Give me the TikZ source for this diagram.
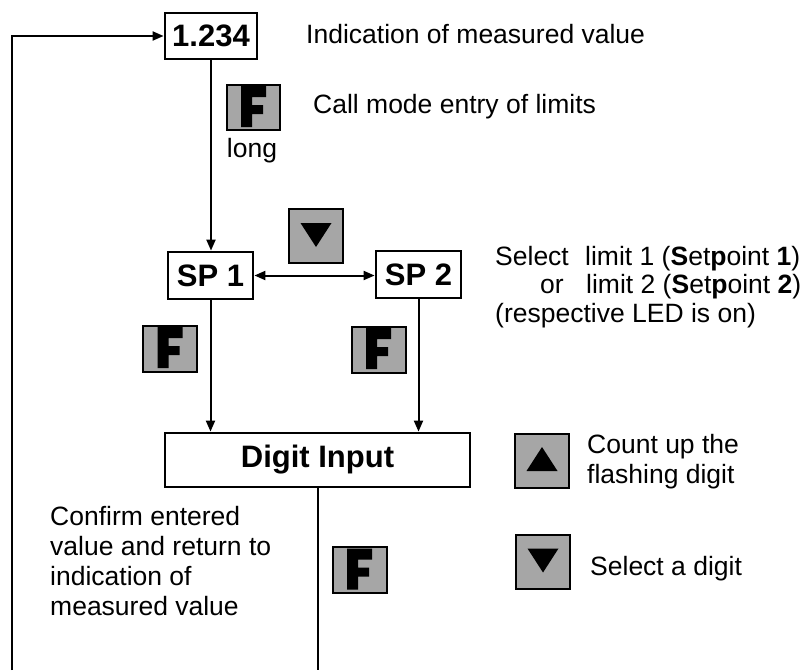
\documentclass[tikz,border=0pt]{standalone}
\usepackage{fontspec}
\setmainfont{Liberation Sans}
\usetikzlibrary{arrows.meta}
\definecolor{keygray}{RGB}{166,166,166}
\newcommand{\Fglyph}[1]{\fill[shift={(#1.center)}] (-12.5,-21.5) -- (12.5,-21.5) -- (12.5,-10.5) -- (-1.5,-10.5) -- (-1.5,-2.5) -- (9.5,-2.5) -- (9.5,6.5) -- (-1.5,6.5) -- (-1.5,19.5) -- (-12.5,19.5) -- cycle;}
\newcommand{\Downglyph}[1]{\fill[shift={(#1.center)}] (-15.5,-13) -- (15.5,-13) -- (0,11) -- cycle;}
\newcommand{\Upglyph}[1]{\fill[shift={(#1.center)}] (-15.5,10.5) -- (15.5,10.5) -- (0,-13.5) -- cycle;}
\begin{document}
\begin{tikzpicture}[x=1pt,y=-1pt,
  txt/.style={anchor=base west,inner sep=0pt,font=\fontsize{26.5}{30}\selectfont},
  statebox/.style={draw,line width=2.8pt,fill=white,inner sep=0pt,font=\fontsize{31}{34}\selectfont\bfseries},
  keyF/.style={draw,line width=2pt,fill=keygray,inner sep=0pt,minimum width=54pt,minimum height=46pt},
  keyA/.style={draw,line width=2pt,fill=keygray,inner sep=0pt,minimum width=54pt,minimum height=54pt},
  conn/.style={line width=2pt},
  arr/.style={line width=2pt,-{Triangle[length=11pt,width=9pt]}},
  darr/.style={line width=2pt,{Triangle[length=11pt,width=9pt]}-{Triangle[length=11pt,width=9pt]}}]
\useasboundingbox (0,0) rectangle (805,670);

% state boxes
\node[statebox,minimum width=92pt,minimum height=46pt] (val) at (211,36) {1.234};
\node[statebox,minimum width=85pt,minimum height=47pt] (sp1) at (210.5,275.5) {SP 1};
\node[statebox,minimum width=85pt,minimum height=47pt] (sp2) at (418.5,274.5) {SP 2};
\node[statebox,minimum width=305pt,minimum height=54pt] (digit) at (317.5,460) {Digit Input};

% keys
\node[keyF,minimum width=53pt,minimum height=45pt] (kf0) at (253.5,107.5) {};
\Fglyph{kf0}
\node[keyA] (kd0) at (316,236) {};
\Downglyph{kd0}
\node[keyF] (kf1) at (170,348.5) {};
\Fglyph{kf1}
\node[keyF] (kf2) at (378.5,349.5) {};
\Fglyph{kf2}
\node[keyF] (kf3) at (359.5,570) {};
\Fglyph{kf3}
\node[keyA] (ku1) at (542,460.5) {};
\Upglyph{ku1}
\node[keyA] (kd1) at (543,561.5) {};
\Downglyph{kd1}

% connectors
\coordinate (bl) at (12,670);
\coordinate (br) at (318,670);
\draw[arr] (bl) |- (val.west);
\draw[arr] (val.south) -- (val.south |- sp1.north);
\draw[darr] (sp1.east) -- (sp1.east -| sp2.west);
\draw[arr] (sp1.south) -- (sp1.south |- digit.north);
\draw[arr] (sp2.south) -- (sp2.south |- digit.north);
\draw[conn] (br |- digit.south) -- (br);

% texts
\node[txt] (t1) at (306,43) {Indication of measured value};
\node[txt] (t2) at (313,113) {Call mode entry of limits};
\node[txt,anchor=base] (t3) at (252,157) {long};
\node[txt] (t4a) at (495,265) {Select};
\node[txt] (t4b) at (585,265) {limit 1 (\textbf{S}et\textbf{p}oint \textbf{1})};
\node[txt] (t5a) at (540,293) {or};
\node[txt] (t5b) at (586,293) {limit 2 (\textbf{S}et\textbf{p}oint \textbf{2})};
\node[txt] (t6) at (495,322) {(respective LED is on)};
\node[txt] (t7) at (587,453) {Count up the};
\node[txt] (t8) at (587,483) {flashing digit};
\node[txt] (t9) at (590,575) {Select a digit};
\node[txt] (t10) at (50,525) {Confirm entered};
\node[txt] (t11) at (50,555) {value and return to};
\node[txt] (t12) at (50,585) {indication of};
\node[txt] (t13) at (50,615) {measured value};
\end{tikzpicture}
\end{document}
